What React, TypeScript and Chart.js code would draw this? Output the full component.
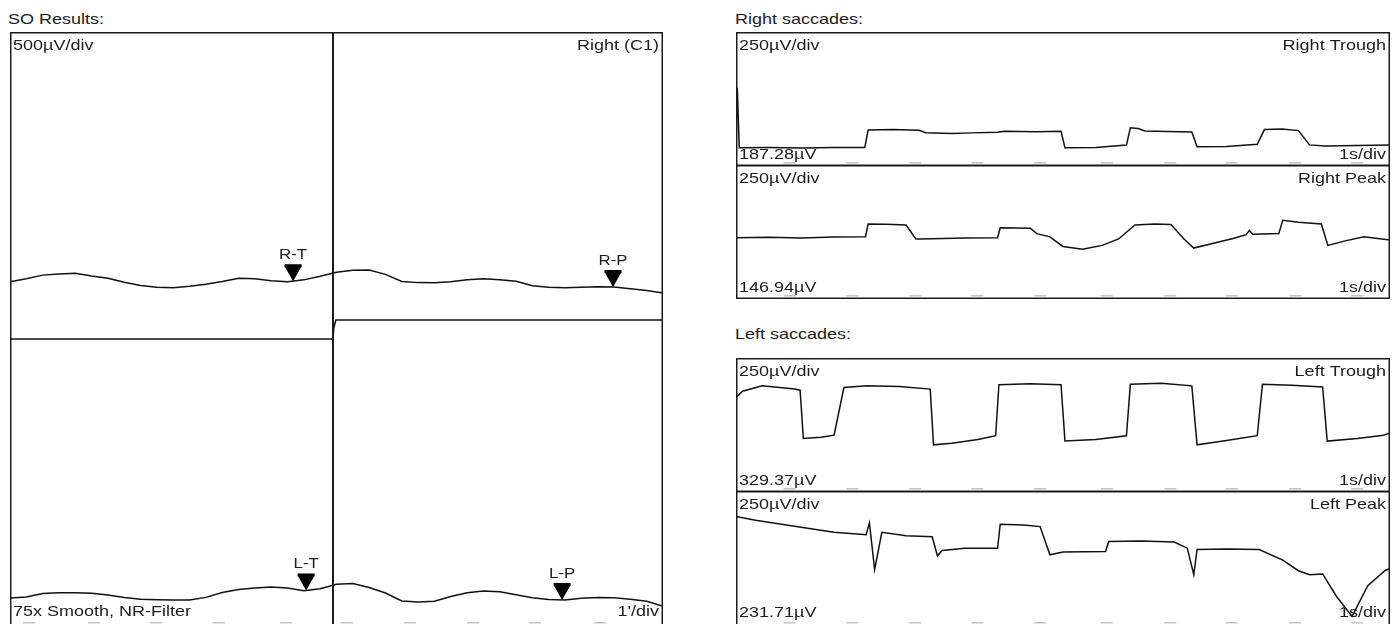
import React, { useEffect, useRef } from 'react';
import { Chart, registerables } from 'chart.js';

Chart.register(...registerables);

const FONT = '"Liberation Sans", Arial, Helvetica, sans-serif';
const INK = '#1c1c1c';
const TEXT_SX = 1.2;

// ---------- SO results (x: minutes, y: µV) ----------
const SO_MIN = [0, 0.5, 1, 1.5, 2, 2.5, 3, 3.5, 4, 4.5, 5, 5.5, 6, 6.5, 7, 7.5, 8, 8.5, 9, 9.5, 10, 10.5, 11, 11.5, 12, 12.5, 13, 13.5, 14, 14.5, 15, 15.5, 16, 16.5, 17, 17.5, 18, 18.5, 19, 19.5, 20];
const SO_RIGHT_UV = [1734, 1750, 1768, 1774, 1778, 1764, 1752, 1732, 1716, 1706, 1704, 1712, 1722, 1736, 1752, 1750, 1740, 1734, 1744, 1762, 1782, 1793, 1794, 1772, 1736, 1730, 1729, 1735, 1745, 1750, 1745, 1737, 1714, 1706, 1704, 1707, 1709, 1708, 1699, 1690, 1677];
const SO_LEFT_UV = [132, 137, 155, 158, 158, 156, 147, 135, 125, 123, 122, 122, 135, 160, 175, 183, 188, 183, 169, 179, 201, 205, 185, 157, 117, 111, 115, 139, 159, 167, 163, 148, 133, 124, 122, 130, 135, 133, 125, 115, 90];
const LIGHT_MIN = [0, 9.89, 9.92, 9.98, 20];
const LIGHT_UV = [1444, 1444, 1500, 1541, 1541];
const LIGHT_ON_MIN = 9.9;
const MARK_LABELS = ['R-T', 'R-P', 'L-T', 'L-P'];
const MARK_MIN = [8.67, 18.47, 9.07, 16.91];
const MARK_UV = [1737, 1708, 170, 122];
const SO_TICKS_MIN = [0.58, 2.57, 4.47, 6.4, 8.45, 10.32, 12.25, 14.18, 16.08, 18.07];

// ---------- Saccades (x: seconds, y: µV) ----------
const RT_S = [0, 0.02, 0.05, 0.5, 1, 1.5, 1.97, 2.02, 2.4, 2.8, 2.9, 3.3, 3.6, 4, 4.1, 4.6, 4.97, 5.03, 5.5, 5.97, 6.03, 6.15, 6.25, 6.6, 6.97, 7.05, 7.5, 7.97, 8.08, 8.35, 8.6, 8.77, 9, 9.5, 10];
const RT_UV = [170, 730, 170, 172, 168, 172, 173, 335, 340, 333, 310, 303, 309, 315, 323, 319, 323, 170, 173, 195, 357, 350, 327, 321, 317, 180, 183, 203, 340, 345, 330, 197, 187, 191, 195];

const RP_S = [0, 0.5, 1, 1.5, 1.98, 2.02, 2.3, 2.6, 2.75, 3, 3.5, 4, 4.04, 4.5, 4.6, 4.8, 5, 5.3, 5.6, 5.85, 6.1, 6.4, 6.65, 6.85, 7, 7.3, 7.6, 7.8, 7.85, 7.9, 8.3, 8.36, 8.6, 8.95, 9.05, 9.3, 9.6, 10];
const RP_UV = [572, 575, 570, 578, 580, 700, 698, 690, 560, 562, 568, 572, 665, 660, 610, 580, 490, 465, 500, 560, 690, 700, 695, 560, 475, 520, 565, 600, 640, 605, 610, 735, 715, 700, 500, 540, 580, 550];

const LT_S = [0, 0.1, 0.4, 0.9, 0.98, 1.03, 1.3, 1.5, 1.65, 2, 2.5, 2.97, 3.02, 3.3, 3.7, 3.97, 4.02, 4.5, 4.97, 5.03, 5.5, 5.97, 6.03, 6.5, 6.97, 7.05, 7.5, 7.97, 8.05, 8.5, 8.97, 9.04, 9.5, 9.9, 10];
const LT_UV = [880, 940, 990, 960, 950, 500, 510, 530, 975, 990, 985, 960, 440, 455, 490, 525, 1000, 1010, 1000, 475, 490, 525, 1005, 1015, 990, 440, 480, 525, 1005, 995, 980, 475, 500, 530, 550];

const LP_S = [0, 0.3, 0.82, 1.5, 1.99, 2.04, 2.12, 2.23, 2.6, 3, 3.08, 3.15, 3.5, 4, 4.04, 4.4, 4.65, 4.8, 5, 5.65, 5.7, 6.2, 6.7, 6.9, 7, 7.05, 7.5, 8, 8.36, 8.6, 8.77, 8.97, 9.18, 9.42, 9.66, 9.93, 10];
const LP_UV = [1010, 975, 925, 862, 838, 950, 512, 862, 830, 820, 640, 690, 712, 712, 938, 930, 915, 650, 675, 680, 775, 780, 770, 712, 462, 700, 705, 700, 600, 500, 462, 470, 260, 70, 360, 505, 520];

const SACC_TICKS_S = [0.82, 1.78, 2.74, 3.69, 4.65, 5.67, 6.64, 7.58, 8.55, 9.5];

type Series = { x: number[]; y: number[] };
type Markers = { labels: string[]; x: number[]; y: number[] };
type PanelProps = {
  left: number; top: number; width: number; height: number;
  xMin: number; xMax: number; yMin: number; yMax: number;
  series: Series[];
  tl: string; tr: string; bl: string; br: string;
  bottomBaseline: number;
  ticks: number[];
  divider?: number;
  markers?: Markers;
};

function stretchedText(ctx: CanvasRenderingContext2D, text: string, x: number, y: number, align: CanvasTextAlign) {
  ctx.save();
  ctx.translate(x, y);
  ctx.scale(TEXT_SX, 1);
  ctx.textAlign = align;
  ctx.fillText(text, 0, 0);
  ctx.restore();
}

function Panel(p: PanelProps) {
  const ref = useRef<HTMLCanvasElement | null>(null);
  useEffect(() => {
    if (!ref.current) return;
    const deco = {
      id: 'deco',
      afterDraw(chart: any) {
        const { ctx, chartArea: a, scales } = chart;
        const xs = scales.x, ys = scales.y;
        ctx.save();
        if (p.divider !== undefined) {
          const px = Math.round(xs.getPixelForValue(p.divider));
          ctx.fillStyle = INK;
          ctx.fillRect(px - 1, a.top, 2, a.bottom - a.top);
        }
        if (p.markers) {
          const m = p.markers;
          ctx.font = `14px ${FONT}`;
          ctx.textBaseline = 'alphabetic';
          for (let i = 0; i < m.labels.length; i++) {
            const px = xs.getPixelForValue(m.x[i]);
            const py = ys.getPixelForValue(m.y[i]);
            ctx.fillStyle = '#000';
            ctx.beginPath();
            ctx.moveTo(px - 8.5, py - 15);
            ctx.lineTo(px + 8.5, py - 15);
            ctx.lineTo(px, py);
            ctx.closePath();
            ctx.fill();
            ctx.fillRect(px - 8.5, py - 17, 17, 3);
            ctx.fillStyle = INK;
            stretchedText(ctx, m.labels[i], px, py - 22, 'center');
          }
        }
        ctx.fillStyle = '#c4c4c4';
        for (const t of p.ticks) {
          const px = xs.getPixelForValue(t);
          ctx.fillRect(px - 6, a.bottom - 4, 12, 1.5);
        }
        ctx.strokeStyle = INK;
        ctx.lineWidth = 1.5;
        ctx.strokeRect(a.left + 0.75, a.top + 0.75, a.right - a.left - 1.5, a.bottom - a.top - 1.5);
        ctx.fillStyle = INK;
        ctx.font = `15px ${FONT}`;
        ctx.textBaseline = 'alphabetic';
        stretchedText(ctx, p.tl, a.left + 3, a.top + 18, 'left');
        stretchedText(ctx, p.bl, a.left + 3, a.bottom - p.bottomBaseline, 'left');
        stretchedText(ctx, p.tr, a.right - 4, a.top + 18, 'right');
        stretchedText(ctx, p.br, a.right - 4, a.bottom - p.bottomBaseline, 'right');
        ctx.restore();
      },
    };
    const chart = new Chart(ref.current, {
      type: 'line',
      data: {
        datasets: p.series.map((s) => ({
          data: s.x.map((x, i) => ({ x, y: s.y[i] })),
          borderColor: '#111',
          borderWidth: 1.5,
          pointRadius: 0,
          tension: 0,
          fill: false,
        })),
      },
      options: {
        animation: false,
        responsive: false,
        events: [],
        layout: { padding: 0 },
        plugins: { legend: { display: false }, tooltip: { enabled: false } },
        scales: {
          x: { type: 'linear', min: p.xMin, max: p.xMax, display: false },
          y: { type: 'linear', min: p.yMin, max: p.yMax, display: false },
        },
      },
      plugins: [deco],
    } as any);
    return () => chart.destroy();
  }, []);
  return (
    <canvas
      ref={ref}
      width={p.width}
      height={p.height}
      style={{ position: 'absolute', left: p.left, top: p.top, width: p.width, height: p.height }}
    />
  );
}

const titleStyle = (left: number, top: number): React.CSSProperties => ({
  position: 'absolute', left, top, font: `15px ${FONT}`, lineHeight: '17px', color: INK, whiteSpace: 'nowrap',
  transform: `scaleX(${TEXT_SX})`, transformOrigin: 'left top',
});

export default function App() {
  return (
    <div style={{ position: 'absolute', left: 0, top: 0, width: 1398, height: 624, overflow: 'hidden', background: '#fff' }}>
      <div style={titleStyle(8, 10)}>SO Results:</div>
      <Panel
        left={10} top={32} width={653} height={594}
        xMin={0} xMax={20} yMin={-10} yMax={3000}
        series={[
          { x: SO_MIN, y: SO_RIGHT_UV },
          { x: SO_MIN, y: SO_LEFT_UV },
          { x: LIGHT_MIN, y: LIGHT_UV },
        ]}
        tl="500µV/div" tr="Right (C1)" bl="75x Smooth, NR-Filter" br="1'/div"
        bottomBaseline={10}
        ticks={SO_TICKS_MIN}
        divider={LIGHT_ON_MIN}
        markers={{ labels: MARK_LABELS, x: MARK_MIN, y: MARK_UV }}
      />
      <div style={titleStyle(735, 10)}>Right saccades:</div>
      <Panel
        left={736} top={32} width={654} height={134}
        xMin={0} xMax={10} yMin={0} yMax={1250}
        series={[{ x: RT_S, y: RT_UV }]}
        tl="250µV/div" tr="Right Trough" bl="187.28µV" br="1s/div"
        bottomBaseline={7} ticks={SACC_TICKS_S}
      />
      <Panel
        left={736} top={165} width={654} height={134}
        xMin={0} xMax={10} yMin={0} yMax={1250}
        series={[{ x: RP_S, y: RP_UV }]}
        tl="250µV/div" tr="Right Peak" bl="146.94µV" br="1s/div"
        bottomBaseline={7} ticks={SACC_TICKS_S}
      />
      <div style={titleStyle(735, 325)}>Left saccades:</div>
      <Panel
        left={736} top={358} width={654} height={134}
        xMin={0} xMax={10} yMin={0} yMax={1250}
        series={[{ x: LT_S, y: LT_UV }]}
        tl="250µV/div" tr="Left Trough" bl="329.37µV" br="1s/div"
        bottomBaseline={7} ticks={SACC_TICKS_S}
      />
      <Panel
        left={736} top={491} width={654} height={135}
        xMin={0} xMax={10} yMin={-20} yMax={1250}
        series={[{ x: LP_S, y: LP_UV }]}
        tl="250µV/div" tr="Left Peak" bl="231.71µV" br="1s/div"
        bottomBaseline={9} ticks={SACC_TICKS_S}
      />
    </div>
  );
}
